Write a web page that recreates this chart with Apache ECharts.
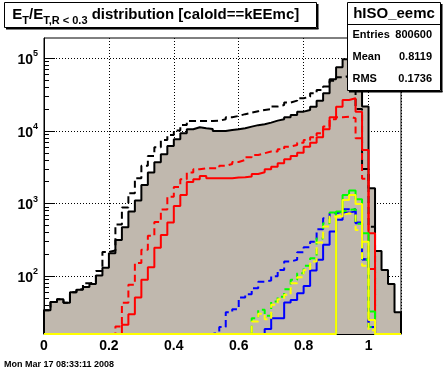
<!DOCTYPE html>
<html><head><meta charset="utf-8">
<script src="https://cdn.jsdelivr.net/npm/echarts@6/dist/echarts.min.js"></script>
<style>html,body{margin:0;padding:0;background:#fff}#c{width:446px;height:372px}</style>
</head><body><div id="c"></div>
<script>
// ---- data (bins of width 0.02 from 0 to 1.1, 55 bins) ----
const binWidth = 0.02;
const xMin = 0, xMax = 1.1;
const yMin = 16, yMax = 190000;
const xTickLabels = ['0', '0.2', '0.4', '0.6', '0.8', '1'];
const yDecades = [100, 1000, 10000, 100000];
const yMinorTicks = [20,30,40,50,60,70,80,90,200,300,400,500,600,700,800,900,2000,3000,4000,5000,6000,7000,8000,9000,20000,30000,40000,50000,60000,70000,80000,90000];

const allSolid = [34,44,48,43,60,65,71,78,102,131,207,316,472,774,1097,1803,2667,3707,4775,6215,7680,9290,10540,11220,10880,10640,9980,9980,10310,10540,10880,11450,12000,12360,13000,13840,14450,15400,16580,18400,19420,21560,26060,33000,51400,75200,96800,98000,70000,21700,1626,223,122,78,32];
const allDashed = [34,44,48,43,60,66,80,82,118,215,225,515,880,1387,2232,3300,4520,5960,7510,8800,10100,12080,13700,13700,13700,13700,13800,14450,15400,16070,17000,17800,18600,19400,20000,21600,22700,24500,26100,28100,29600,33000,36600,40700,49200,54700,57000,52000,20000,3000,480,0,0,0,0];
const redSolid = [0,0,0,0,0,0,0,0,0,0,0,0,21.5,30,51,89,133,247,370,550,927,1315,1980,2160,2400,2232,2232,2232,2232,2275,2300,2350,2557,2700,2967,3220,3590,4070,4520,5020,6070,6890,8180,10540,15400,21560,26670,28140,18400,5470,391,0,0,0,0];
const redDashed = [0,0,0,0,0,0,0,0,0,0,0,20.3,43,76,152,232,359,555,825,1245,1690,2162,2667,2967,3060,3060,3060,3300,3510,3740,3980,4330,4660,4930,5190,5190,5600,6070,6410,6890,7510,8180,9290,11450,14450,15400,15700,14930,7930,2200,126,0,0,0,0];
const blueSolid = [0,0,0,0,0,0,0,0,0,0,0,0,0,0,0,0,0,0,0,0,0,0,0,0,0,0,0,0,0,0,0,0,0,0,18.7,26.4,26.4,43.5,47,58,73,120,168,270,411,600,750,780,550,170,20,0,0,0,0];
const blueDashed = [0,0,0,0,0,0,0,0,0,0,0,0,0,0,0,0,0,0,0,0,0,0,0,0,0,0,17,20,32,35,51,56.5,68,84,87,100,122,159,168,214,251,299,443,628,736,774,836,836,535,171,20,0,0,0,0];
const greenSolid = [0,0,0,0,0,0,0,0,0,0,0,0,0,0,0,0,0,0,0,0,0,0,0,0,0,0,0,0,0,0,0,0,0,0,0,0,0,0,0,0,0,0,0,0,0,774,1315,1507,1148,391,32.6,0,0,0,0];
const greenDashed = [0,0,0,0,0,0,0,0,0,0,0,0,0,0,0,0,0,0,0,0,0,0,0,0,0,0,0,0,0,0,0,0,26.4,34.4,28.5,44.8,52,66,89,110,139,177,330,535,750,774,817,836,525,168,20,0,0,0,0];
const yellowSolid = [0,0,0,0,0,0,0,0,0,0,0,0,0,0,0,0,0,0,0,0,0,0,0,0,0,0,0,0,0,0,0,0,0,0,0,0,0,0,0,0,0,0,0,0,0,661,1122,1315,988,299,25,0,0,0,0];
const yellowDashed = [0,0,0,0,0,0,0,0,0,0,0,0,0,0,0,0,0,0,0,0,0,0,0,0,0,0,0,0,0,0,0,0,23.7,30.3,25.6,40.3,48.2,55.3,80,97,122,159,290,482,661,697,736,697,433,139,18,0,0,0,0];

// title pieces: [text, isSubscript]
const titlePieces = [['E', false], ['T', true], ['/E', false], ['T,R < 0.3', true], [' distribution [caloId==kEEmc]', false]];

// ---- build ----
function histPoints(vals) {
  const pts = [[xMin, yMin]];
  for (let i = 0; i < vals.length; i++) pts.push([+(xMin + i * binWidth).toFixed(4), Math.max(vals[i], yMin)]);
  pts.push([xMax, Math.max(vals[vals.length - 1], yMin)]);
  pts.push([xMax, yMin]);
  return pts;
}
const FONT = '"Liberation Sans", Arial, Helvetica, sans-serif';
const dash = [7, 4];
function histSeries(vals, color, dashed, z, fill) {
  const s = {
    type: 'line', step: 'end', symbol: 'none', data: histPoints(vals), z: z,
    lineStyle: { color: color, width: 2, type: dashed ? dash : 'solid' },
    silent: true, animation: false
  };
  if (fill) s.areaStyle = { color: fill, opacity: 1, origin: 'start' };
  return s;
}

const mctx = document.createElement('canvas').getContext('2d');
function textWidth(t, font) { mctx.font = font; return mctx.measureText(t).width; }
const bigFont = 'bold 15px ' + FONT, subFont = 'bold 11px ' + FONT;
const titleEls = [];
let tx = 12.3;
titlePieces.forEach(function (p) {
  const f = p[1] ? subFont : bigFont;
  titleEls.push({ type: 'text', x: tx, y: p[1] ? 21 : 14.6, z: 101,
    style: { text: p[0], font: f, fill: '#000', textAlign: 'left', textVerticalAlign: 'middle' } });
  tx += textWidth(p[0], f);
});

const chart = echarts.init(document.getElementById('c'), null, { renderer: 'canvas' });
chart.setOption({
  animation: false,
  backgroundColor: '#fff',
  grid: { left: 44, right: 45, top: 38, bottom: 38, show: true, borderColor: '#000', borderWidth: 1, backgroundColor: 'transparent' },
  xAxis: {
    type: 'value', min: xMin, max: xMax, interval: 0.2,
    axisLine: { show: true, lineStyle: { color: '#000', width: 1 } },
    axisTick: { show: true, inside: true, length: 10, lineStyle: { color: '#000', width: 1 } },
    minorTick: { show: true, splitNumber: 4, length: 5, lineStyle: { color: '#000', width: 1 } },
    splitLine: { show: true, lineStyle: { color: '#000', width: 1, type: [1, 2] } },
    axisLabel: {
      show: true, margin: 5, color: '#000', fontFamily: FONT, fontWeight: 'bold', fontSize: 14,
      showMaxLabel: false,
      formatter: function (v) {
        const i = Math.round(v / 0.2);
        if (Math.abs(v - i * 0.2) > 1e-6 || i >= xTickLabels.length) return '';
        return xTickLabels[i];
      }
    }
  },
  yAxis: [{
    type: 'log', logBase: 10, min: yMin, max: yMax,
    axisLine: { show: true, lineStyle: { color: '#000', width: 1 } },
    axisTick: { show: true, inside: true, length: 11, customValues: yDecades, lineStyle: { color: '#000', width: 1 } },
    splitLine: { show: true, lineStyle: { color: '#000', width: 1, type: [1, 2] } },
    axisLabel: {
      show: true, margin: 6, customValues: yDecades,
      formatter: function (v) {
        const e = Math.round(Math.log10(v));
        return '{b|10}{e|' + e + '}';
      },
      rich: {
        b: { fontFamily: FONT, fontWeight: 'bold', fontSize: 14, color: '#000', lineHeight: 18, verticalAlign: 'bottom' },
        e: { fontFamily: FONT, fontWeight: 'bold', fontSize: 9, color: '#000', lineHeight: 9, verticalAlign: 'top' }
      }
    }
  }, {
    type: 'log', logBase: 10, min: yMin, max: yMax, position: 'left',
    axisLine: { show: false },
    axisTick: { show: true, inside: true, length: 5, customValues: yMinorTicks, lineStyle: { color: '#000', width: 1 } },
    splitLine: { show: false },
    axisLabel: { show: false }
  }],
  series: [
    histSeries(allSolid, '#000', false, 2, '#c0b8ae'),
    histSeries(allDashed, '#000', true, 3),
    histSeries(redSolid, '#ff0000', false, 4),
    histSeries(redDashed, '#ff0000', true, 5),
    histSeries(blueSolid, '#0000ff', false, 6),
    histSeries(blueDashed, '#0000ff', true, 7),
    histSeries(greenSolid, '#00ff00', false, 8),
    histSeries(greenDashed, '#00ff00', true, 9),
    histSeries(yellowSolid, '#ffff00', false, 10),
    histSeries(yellowDashed, '#ffff00', true, 11)
  ],
  graphic: [
    // title box
    { type: 'rect', shape: { x: 4.5, y: 2.5, width: 312, height: 25 }, style: { fill: '#fff', stroke: '#000', lineWidth: 1 }, z: 100 },
    { type: 'rect', shape: { x: 317, y: 4, width: 1.5, height: 25 }, style: { fill: '#000' }, z: 100 },
    { type: 'rect', shape: { x: 6, y: 28, width: 312.5, height: 1.5 }, style: { fill: '#000' }, z: 100 }
  ].concat(titleEls).concat([
    // stats box
    { type: 'rect', shape: { x: 347.5, y: 2.5, width: 93, height: 88 }, style: { fill: '#fff', stroke: '#000', lineWidth: 1 }, z: 100 },
    { type: 'rect', shape: { x: 441, y: 4, width: 1.5, height: 88 }, style: { fill: '#000' }, z: 100 },
    { type: 'rect', shape: { x: 349, y: 91, width: 93.5, height: 1.5 }, style: { fill: '#000' }, z: 100 },
    { type: 'line', shape: { x1: 347.5, y1: 24.5, x2: 440.5, y2: 24.5 }, style: { stroke: '#000', lineWidth: 1 }, z: 101 },
    { type: 'text', x: 394, y: 13.5, z: 101, style: { text: 'hISO_eemc', font: 'bold 15px ' + FONT, fill: '#000', textAlign: 'center', textVerticalAlign: 'middle' } },
    { type: 'text', x: 352.5, y: 35, z: 101, style: { text: 'Entries', font: 'bold 11px ' + FONT, fill: '#000', textAlign: 'left', textVerticalAlign: 'middle' } },
    { type: 'text', x: 432, y: 35, z: 101, style: { text: '800600', font: 'bold 11px ' + FONT, fill: '#000', textAlign: 'right', textVerticalAlign: 'middle' } },
    { type: 'text', x: 352.5, y: 57.3, z: 101, style: { text: 'Mean', font: 'bold 11px ' + FONT, fill: '#000', textAlign: 'left', textVerticalAlign: 'middle' } },
    { type: 'text', x: 432, y: 57.3, z: 101, style: { text: '0.8119', font: 'bold 11px ' + FONT, fill: '#000', textAlign: 'right', textVerticalAlign: 'middle' } },
    { type: 'text', x: 352.5, y: 79.3, z: 101, style: { text: 'RMS', font: 'bold 11px ' + FONT, fill: '#000', textAlign: 'left', textVerticalAlign: 'middle' } },
    { type: 'text', x: 432, y: 79.3, z: 101, style: { text: '0.1736', font: 'bold 11px ' + FONT, fill: '#000', textAlign: 'right', textVerticalAlign: 'middle' } },
    // footer date
    { type: 'text', x: 4, y: 364.5, z: 101, style: { text: 'Mon Mar 17 08:33:11 2008', font: 'bold 9px ' + FONT, fill: '#000', textAlign: 'left', textVerticalAlign: 'middle' } }
  ])
});
</script>
</body></html>
